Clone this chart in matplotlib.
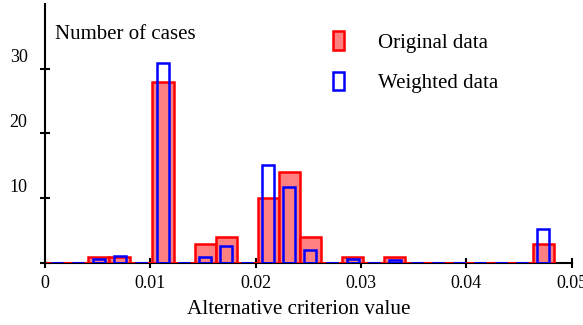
# Histogram of alternative criterion values: original vs weighted data
import numpy as np
import matplotlib.pyplot as plt
from matplotlib.transforms import ScaledTranslation

plt.rcParams['font.family'] = ['Liberation Serif', 'DejaVu Serif']

# bin centres (bin width ~0.002)
bin_centers = [0.0011, 0.0031, 0.0051, 0.0071, 0.0091, 0.0112, 0.0132, 0.0152,
               0.0172, 0.0192, 0.0212, 0.0232, 0.0252, 0.0272, 0.0292, 0.0312,
               0.0332, 0.0353, 0.0373, 0.0393, 0.0413, 0.0433, 0.0453, 0.0473]
original = [0, 0, 1, 1, 0, 28, 0, 3, 4, 0, 10, 14, 4, 0, 1, 0,
            1, 0, 0, 0, 0, 0, 0, 3]
weighted = [0, 0, 0.6, 1.05, 0, 30.9, 0, 1.0, 2.7, 0, 15.1, 11.8, 2.0, 0, 0.6, 0,
            0.5, 0, 0, 0, 0, 0, 0, 5.3]
x_ticks = [0, 0.01, 0.02, 0.03, 0.04, 0.05]
x_ticklabels = ['0', '0.01', '0.02', '0.03', '0.04', '0.05']
y_ticks = [0, 10, 20, 30]
y_ticklabels = ['', '10', '20', '30']

w_red = 0.00201
w_blue = 0.00114

fig = plt.figure(figsize=(5.83, 3.25), dpi=100)
ax = fig.add_axes([0.0772, 0.1908, 0.9034, 0.7970])

red = ax.bar(bin_centers, original, width=w_red, color='#ff8080',
             edgecolor='#ff0000', linewidth=1.8, zorder=2, label='Original data')
blue = ax.bar(bin_centers, weighted, width=w_blue, fill=False,
              edgecolor='#0000ff', linewidth=1.8, zorder=2.2, label='Weighted data')

# bottom edges of every bin (also the empty ones) -> red/blue dashed baseline
c = np.array(bin_centers)
y0 = np.zeros_like(c)
ax.hlines(y0, c - w_red / 2, c + w_red / 2, color='#ff0000', lw=2, zorder=2.1)
ax.hlines(y0, c - w_blue / 2, c + w_blue / 2, color='#0000ff', lw=2, zorder=2.3)

ax.set_xlim(0, 0.05)
ax.set_ylim(0, 40)
ax.set_xticks(x_ticks)
ax.set_xticklabels(x_ticklabels)
ax.set_yticks(y_ticks)
ax.set_yticklabels(y_ticklabels)

for s in ['top', 'right']:
    ax.spines[s].set_visible(False)
for s in ['left', 'bottom']:
    ax.spines[s].set_linewidth(1.5)
ax.spines['bottom'].set_zorder(1)

ax.tick_params(axis='both', direction='inout', length=7.2, width=1.5,
               labelsize=13)
ax.tick_params(axis='x', pad=5)
ax.tick_params(axis='y', pad=9)

# y labels sit a bit above their ticks
off = ScaledTranslation(0, 0.13, fig.dpi_scale_trans)
for lbl in ax.get_yticklabels():
    lbl.set_transform(lbl.get_transform() + off)

ax.set_xlabel('Alternative criterion value', fontsize=15.2)
ax.xaxis.set_label_coords(0.482, -0.142)

ax.text(0.019, 0.884, 'Number of cases', transform=ax.transAxes,
        fontsize=15, va='center', ha='left')

ax.legend(handles=[red, blue], loc='upper left', bbox_to_anchor=(0.547, 0.895),
          frameon=False, fontsize=15, handlelength=0.5, handleheight=1.0,
          handletextpad=1.65, labelspacing=0.92, borderpad=0, borderaxespad=0)

fig.savefig('out.png', dpi=100)
